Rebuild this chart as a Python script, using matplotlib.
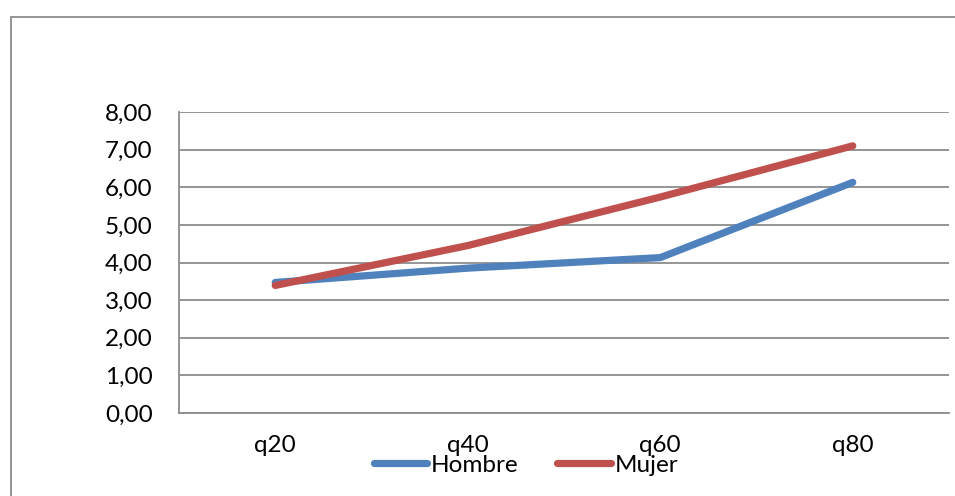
import matplotlib
matplotlib.use("Agg")
import matplotlib.pyplot as plt
from matplotlib.patches import Rectangle

# Data
categories = ["q20", "q40", "q60", "q80"]
hombre = [3.47, 3.85, 4.13, 6.13]
mujer = [3.39, 4.45, 5.74, 7.10]
y_ticks = [0, 1, 2, 3, 4, 5, 6, 7, 8]
y_tick_labels = ["0,00", "1,00", "2,00", "3,00", "4,00", "5,00", "6,00", "7,00", "8,00"]

W, H, DPI = 955, 496, 100
plt.rcParams["font.family"] = ["Lato", "DejaVu Sans"]

fig = plt.figure(figsize=(W / DPI, H / DPI), dpi=DPI)

# Outer chart border
fig.patches.append(Rectangle((10.5 / W, -0.1), 1.2, 1 - 16.5 / H + 0.1,
                             transform=fig.transFigure, fill=False,
                             edgecolor="#8c8c8c", linewidth=1.3))

left, right = 179 / W, 949 / W
bottom, top = 1 - 413 / H, 1 - 112 / H
ax = fig.add_axes([left, bottom, right - left, top - bottom])

x = range(len(categories))
ax.plot(x, hombre, color="#4F81BD", linewidth=5.2, solid_capstyle="round",
        solid_joinstyle="round", label="Hombre")
ax.plot(x, mujer, color="#C0504D", linewidth=5.2, solid_capstyle="round",
        solid_joinstyle="round", label="Mujer")

ax.set_xlim(-0.5, 3.5)
ax.set_ylim(0, 8)
ax.set_yticks(y_ticks)
ax.set_yticklabels(y_tick_labels, fontsize=17.5)
ax.set_xticks(list(x))
ax.set_xticklabels(categories, fontsize=17.5)
ax.tick_params(axis="y", length=0, pad=19)
ax.tick_params(axis="x", length=0, pad=16)

ax.grid(axis="y", color="#8c8c8c", linewidth=1.3)
ax.set_axisbelow(True)
for side in ("top", "right"):
    ax.spines[side].set_visible(False)
for side in ("left", "bottom"):
    ax.spines[side].set_color("#8c8c8c")
    ax.spines[side].set_linewidth(1.3)

fig.legend(loc="center", bbox_to_anchor=(526 / W, 1 - 465 / H), ncol=2,
           frameon=False, fontsize=17.5, handlelength=2.2, handletextpad=0.15,
           columnspacing=1.6, borderpad=0, borderaxespad=0)

fig.savefig("out.png", dpi=DPI)
